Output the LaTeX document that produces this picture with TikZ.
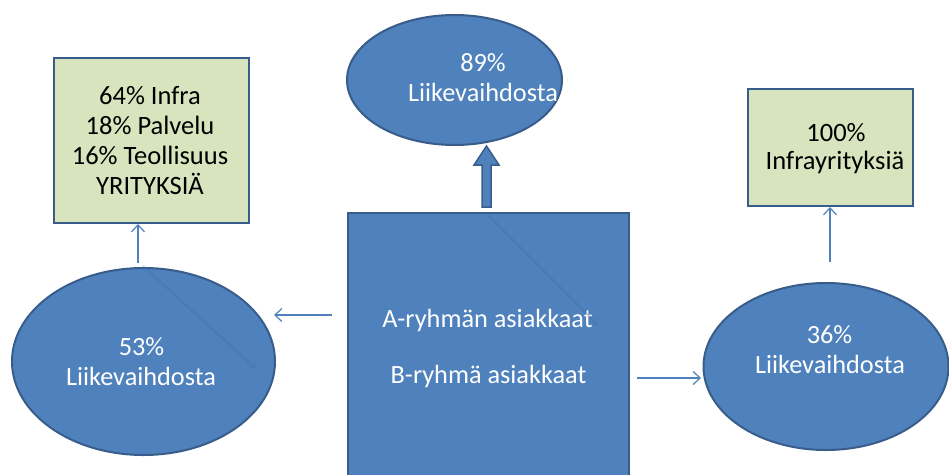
\documentclass[tikz,border=0pt]{standalone}
\usepackage{fontspec}
\setmainfont{Carlito}
\usetikzlibrary{shapes.geometric,arrows.meta}
\definecolor{bfill}{HTML}{4F81BD}
\definecolor{bline}{HTML}{385D8A}
\definecolor{gfill}{HTML}{D7E4BD}
\tikzset{
  oval/.style={ellipse, fill=bfill, draw=bline, line width=2pt, inner sep=0pt},
  gbox/.style={rectangle, fill=gfill, draw=bline, line width=2pt, inner sep=0pt, anchor=north west},
  wtxt/.style={text=white, font=\fontsize{26.3}{30}\selectfont, anchor=base, inner sep=0pt},
  btxt/.style={text=black, font=\fontsize{26.5}{30}\selectfont, anchor=base, inner sep=0pt},
  conn/.style={draw=bfill, line width=1.2pt, -{Straight Barb[length=7pt,width=13pt]}},
  ghost/.style={draw=bline, opacity=0.18, line width=0.6pt, double=bfill, double distance=1.2pt, -{Straight Barb[length=5pt,width=9pt]}}
}
\begin{document}
\begin{tikzpicture}[x=1pt,y=-1pt]
\useasboundingbox (0,0) rectangle (949,474);
% center rectangle
\node[rectangle, fill=bfill, draw=bline, line width=2pt, minimum width=281pt, minimum height=270pt, anchor=north west, inner sep=0pt] (c) at (347,212) {};
\node[wtxt] (ca) at (487.5,327) {A-ryhmän asiakkaat};
\node[wtxt] (cb) at (488.5,383) {B-ryhmä asiakkaat};
% top ellipse
\node[oval, minimum width=215pt, minimum height=130pt] (top) at (454.5,80) {};
\node[wtxt] (t1) at (483,71) {89\%};
\node[wtxt] (t2) at (483,101) {Liikevaihdosta};
% thick arrow
\draw[fill=bfill, draw=bline, line width=1.5pt] (482,207) -- (491,207) -- (491,165) -- (499,165) -- (486.5,146) -- (474,165) -- (482,165) -- cycle;
% left ellipse
\node[oval, minimum width=263pt, minimum height=187pt] (le) at (143.5,361.5) {};
\node[wtxt] (l1t) at (141.5,355) {53\%};
\node[wtxt] (l2t) at (141,385) {Liikevaihdosta};
% right ellipse
\node[oval, minimum width=245pt, minimum height=167pt] (re) at (826,366.5) {};
\node[wtxt] (r1t) at (829.5,343) {36\%};
\node[wtxt] (r2t) at (830,373) {Liikevaihdosta};
% green boxes
\node[gbox, minimum width=195pt, minimum height=165pt] (lb) at (53,57) {};
\node[btxt] (b1) at (150,104) {64\% Infra};
\node[btxt] (b2) at (150,134) {18\% Palvelu};
\node[btxt] (b3) at (150,164) {16\% Teollisuus};
\node[btxt] (b4) at (150,194) {YRITYKSIÄ};
\node[gbox, minimum width=165pt, minimum height=117pt] (rb) at (747,88) {};
\node[btxt] (rb1) at (836,141) {100\%};
\node[btxt] (rb2) at (835,169) {Infrayrityksiä};
% connectors
\coordinate (l1) at (138,263);
\draw[conn] (l1) -- (lb.south -| l1);
\coordinate (r1) at (830,262);
\draw[conn] (r1) -- (rb.south -| r1);
\coordinate (a1) at (332,315);
\coordinate (a2) at (274,315);
\draw[conn] (a1) -- (a2);
\coordinate (bb1) at (637,378);
\coordinate (bb2) at (701,378);
\draw[conn] (bb1) -- (bb2);
% faint ghost arrows
\coordinate (g1) at (143,266);
\coordinate (g2) at (255,368);
\draw[ghost] (g1) -- (g2);
\coordinate (g3) at (487,214);
\coordinate (g4) at (598,325);
\draw[ghost] (g3) -- (g4);
\end{tikzpicture}
\end{document}
